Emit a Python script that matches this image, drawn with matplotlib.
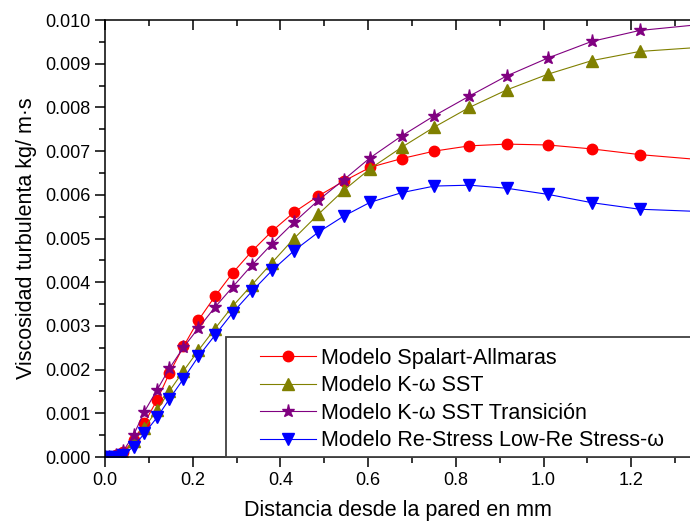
import matplotlib
matplotlib.use('Agg')
import matplotlib.pyplot as plt
from matplotlib.patches import Rectangle
from matplotlib.ticker import MultipleLocator, FormatStrFormatter

plt.rcParams['font.family'] = ['Liberation Sans', 'DejaVu Sans']

# distance from the wall (mm)
distancia = [0.0, 0.009, 0.024, 0.042, 0.065, 0.090, 0.119, 0.147, 0.179, 0.213,
             0.251, 0.291, 0.335, 0.381, 0.431, 0.486, 0.544, 0.605, 0.677, 0.751,
             0.831, 0.916, 1.010, 1.110, 1.219, 1.350]

# turbulent viscosity (x 1e-3 kg/m.s)
spalart = [0.0, 0.01, 0.04, 0.12, 0.38, 0.78, 1.31, 1.92, 2.53, 3.13,
           3.68, 4.21, 4.71, 5.17, 5.60, 5.97, 6.31, 6.63, 6.83, 7.00,
           7.12, 7.16, 7.14, 7.05, 6.92, 6.81]
kw_sst = [0.0, 0.0, 0.02, 0.06, 0.37, 0.67, 1.08, 1.51, 1.97, 2.44,
          2.94, 3.45, 3.94, 4.45, 5.00, 5.55, 6.10, 6.60, 7.09, 7.55,
          8.00, 8.40, 8.76, 9.07, 9.28, 9.37]
kw_sst_trans = [0.0, 0.01, 0.05, 0.14, 0.50, 1.04, 1.54, 2.03, 2.51, 2.95,
                3.43, 3.89, 4.39, 4.88, 5.37, 5.87, 6.34, 6.85, 7.35, 7.81,
                8.26, 8.72, 9.13, 9.51, 9.76, 9.89]
re_stress = [0.0, 0.0, 0.01, 0.04, 0.24, 0.54, 0.91, 1.33, 1.79, 2.30,
             2.79, 3.30, 3.79, 4.27, 4.72, 5.14, 5.51, 5.83, 6.05, 6.20,
             6.22, 6.15, 6.01, 5.82, 5.67, 5.62]

etiquetas = ['Modelo Spalart-Allmaras', 'Modelo K-ω SST',
             'Modelo K-ω SST Transición', 'Modelo Re-Stress Low-Re Stress-ω']

fig = plt.figure(figsize=(6.9, 5.24), dpi=100)
ax = fig.add_axes([105 / 690, 67 / 524, 585 / 690, 437 / 524])

def esc(v):
    return [a * 1e-3 for a in v]

ax.plot(distancia, esc(spalart), '-o', color='#ff0000', lw=0.8, ms=7.5,
        label=etiquetas[0])
ax.plot(distancia, esc(kw_sst), '-^', color='#808000', lw=0.8, ms=9,
        label=etiquetas[1])
ax.plot(distancia, esc(kw_sst_trans), '-*', color='#800080', lw=0.8, ms=9.5,
        mec='#800080', label=etiquetas[2])
ax.plot(distancia, esc(re_stress), '-v', color='#0000ff', lw=0.8, ms=8.5,
        label=etiquetas[3])

ax.set_xlim(0, 1.334)
ax.set_ylim(0, 0.010)

ax.xaxis.set_major_locator(MultipleLocator(0.2))
ax.xaxis.set_minor_locator(MultipleLocator(0.1))
ax.xaxis.set_major_formatter(FormatStrFormatter('%.1f'))
ax.yaxis.set_major_locator(MultipleLocator(0.001))
ax.yaxis.set_minor_locator(MultipleLocator(0.0005))
ax.yaxis.set_major_formatter(FormatStrFormatter('%.3f'))

ax.spines['right'].set_visible(False)
ax.spines['top'].set_visible(False)
for s in ['left', 'bottom']:
    ax.spines[s].set_linewidth(1.1)

ax.tick_params(which='major', direction='out', length=7, width=1.1, labelsize=13)
ax.tick_params(which='minor', direction='out', length=4, width=1.1)

top = ax.secondary_xaxis('top')
top.xaxis.set_major_locator(MultipleLocator(0.2))
top.xaxis.set_minor_locator(MultipleLocator(0.1))
top.tick_params(which='major', direction='in', length=7, width=1.1, labeltop=False)
top.tick_params(which='minor', direction='in', length=4, width=1.1)
top.spines['top'].set_linewidth(1.1)

ax.set_xlabel('Distancia desde la pared en mm', fontsize=15.5, labelpad=8)
ax.set_ylabel('Viscosidad turbulenta kg/ m·s', fontsize=15.5, labelpad=6)

# legend frame
ax.add_patch(Rectangle((0.207, 0.0), 1.0, 0.2746, transform=ax.transAxes,
                       facecolor='white', edgecolor='#404040', lw=1.3,
                       clip_on=False, zorder=4))
leg = ax.legend(loc='upper left', bbox_to_anchor=(0.265, 0.25), frameon=False,
                fontsize=15.5, borderpad=0, borderaxespad=0, handlelength=2.6,
                handletextpad=0.25, labelspacing=0.3)
leg.set_zorder(5)

fig.savefig('out.png', dpi=100)
